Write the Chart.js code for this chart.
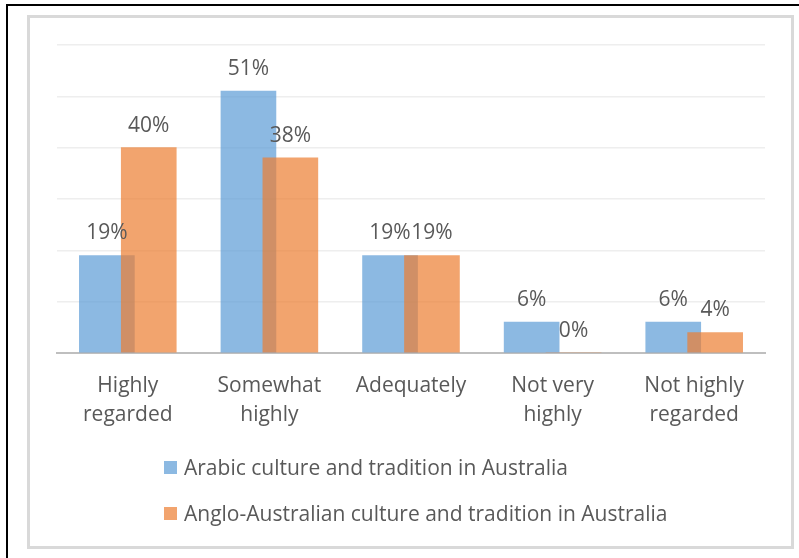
<!DOCTYPE html>
<html>
<head>
<meta charset="utf-8">
<script src="https://cdn.jsdelivr.net/npm/chart.js@4/dist/chart.umd.min.js"></script>
<style>
  html, body { margin: 0; padding: 0; background: #fff; }
  body { width: 799px; height: 558px; position: relative; overflow: hidden; font-family: "Open Sans", sans-serif; }
  .frame { position: absolute; left: 6px; top: 4px; width: 820px; height: 580px; border-top: 2px solid #000; border-left: 2px solid #000; }
  .panel { position: absolute; left: 27px; top: 15px; width: 767px; height: 534px; box-sizing: border-box; border: 3px solid #d9d9d9; }
  #wrap { position: absolute; left: 30px; top: 17px; width: 760px; height: 430px; }
  #legend { position: absolute; left: 164px; top: 444px; color: #595959; font-size: 21px; }
  #legend div { height: 46px; display: flex; align-items: center; white-space: nowrap; }
  #legend span.box { display: inline-block; width: 13px; height: 13px; margin-right: 7px; }
</style>
</head>
<body>
<div class="frame"></div>
<div class="panel"></div>
<div id="wrap"><canvas id="chart"></canvas></div>
<div id="legend"></div>
<script>
const categories = [['Highly', 'regarded'], ['Somewhat', 'highly'], ['Adequately'], ['Not very', 'highly'], ['Not highly', 'regarded']];
const arabic = [19, 51, 19, 6, 6];
const anglo = [40, 38, 19, 0, 4];
const seriesNames = ['Arabic culture and tradition in Australia', 'Anglo-Australian culture and tradition in Australia'];
const yTicks = [0, 10, 20, 30, 40, 50, 60];

// bars of one category overlap a little, so each series sits a bit off the tick
const shift = 0.148;
const pts = (vals, dx) => vals.map((v, i) => ({x: i + dx, y: v}));

const valueLabels = {
    id: 'valueLabels',
    afterDatasetsDraw(chart) {
        const ctx = chart.ctx;
        ctx.save();
        ctx.font = '21px "Open Sans"';
        ctx.fillStyle = '#595959';
        ctx.textAlign = 'center';
        ctx.textBaseline = 'alphabetic';
        chart.data.datasets.forEach((ds, di) => {
            const meta = chart.getDatasetMeta(di);
            meta.data.forEach((bar, i) => {
                ctx.fillText(ds.data[i].y + '%', bar.x, bar.y - 16);
            });
        });
        ctx.restore();
    }
};

const chart = new Chart(document.getElementById('chart'), {
    type: 'bar',
    data: {
        datasets: [{
            label: seriesNames[0],
            data: pts(arabic, -shift),
            backgroundColor: 'rgba(91,155,213,0.7)',
            order: 1
        }, {
            label: seriesNames[1],
            data: pts(anglo, shift),
            backgroundColor: 'rgba(237,125,49,0.7)',
            order: 0
        }]
    },
    options: {
        responsive: true,
        maintainAspectRatio: false,
        animation: false,
        events: [],
        datasets: {bar: {grouped: false, barThickness: 55, borderWidth: 0}},
        layout: {padding: {left: 27, right: 25, top: 28, bottom: 14}},
        plugins: {legend: {display: false}, tooltip: {enabled: false}},
        scales: {
            x: {
                type: 'linear',
                min: -0.5,
                max: categories.length - 0.5,
                offset: false,
                z: 1,
                afterBuildTicks: s => { s.ticks = categories.map((c, i) => ({value: i})); },
                afterFit: s => { s.height = 80; },
                grid: {display: false, drawTicks: false},
                border: {display: true, color: '#bfbfbf', width: 2},
                ticks: {
                    autoSkip: false,
                    maxRotation: 0,
                    padding: 18,
                    color: '#595959',
                    font: {family: 'Open Sans', size: 21, lineHeight: 1.4},
                    callback: v => categories[v]
                }
            },
            y: {
                min: yTicks[0],
                max: yTicks[yTicks.length - 1],
                afterBuildTicks: s => { s.ticks = yTicks.map(v => ({value: v})); },
                afterFit: s => { s.width = 0; },
                grid: {color: '#eeeeee', lineWidth: 1.5, drawTicks: false},
                border: {display: false},
                ticks: {display: false}
            }
        }
    },
    plugins: [valueLabels]
});

// legend below the chart, one series per row
const legend = document.getElementById('legend');
chart.data.datasets.forEach(ds => {
    const row = document.createElement('div');
    const box = document.createElement('span');
    box.className = 'box';
    box.style.background = ds.backgroundColor;
    row.appendChild(box);
    row.appendChild(document.createTextNode(ds.label));
    legend.appendChild(row);
});
</script>
</body>
</html>
